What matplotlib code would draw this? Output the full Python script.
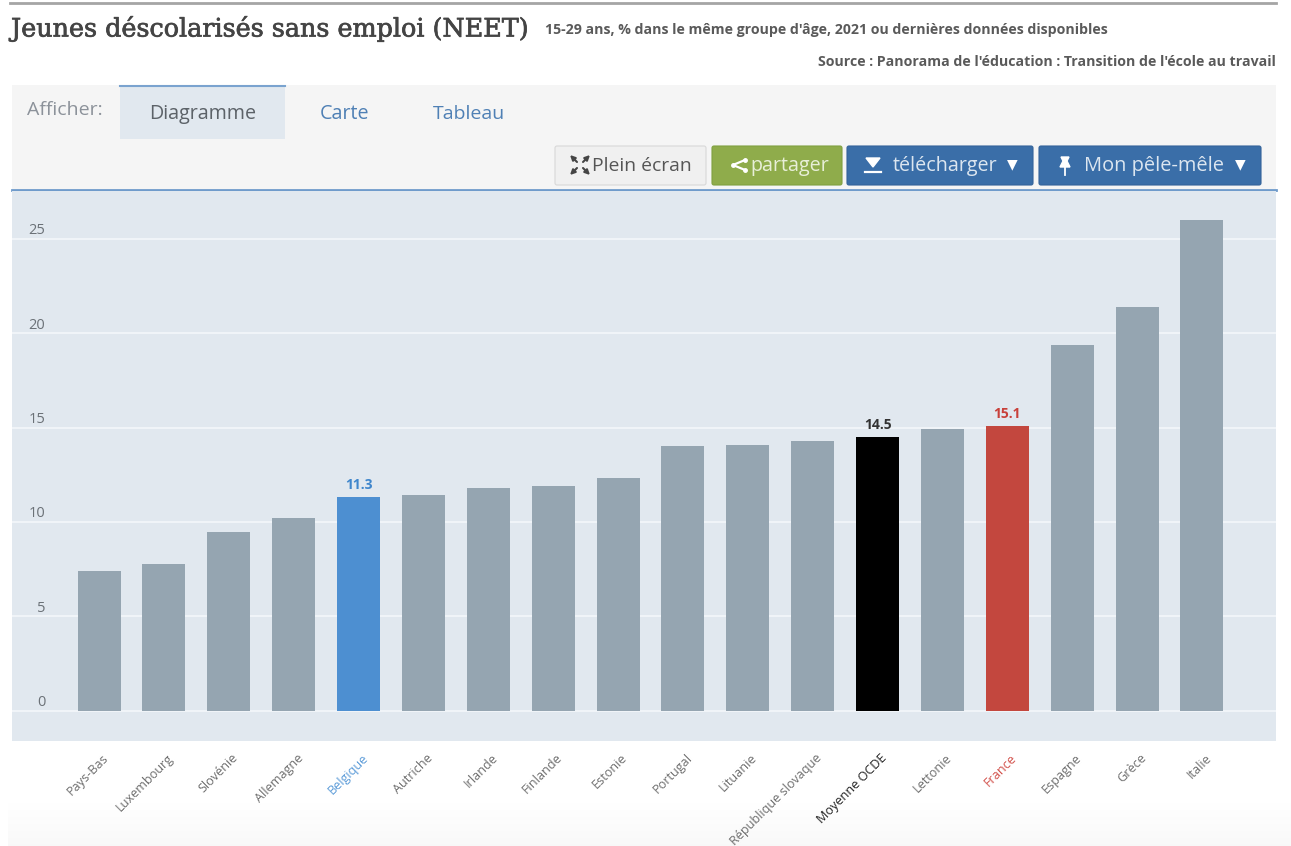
import matplotlib
matplotlib.use("Agg")
import matplotlib.pyplot as plt
import matplotlib.patheffects as pe
import numpy as np
from matplotlib.patches import FancyBboxPatch, Rectangle
from matplotlib.transforms import ScaledTranslation

countries = ["Pays-Bas", "Luxembourg", "Slovénie", "Allemagne", "Belgique", "Autriche",
             "Irlande", "Finlande", "Estonie", "Portugal", "Lituanie", "République slovaque",
             "Moyenne OCDE", "Lettonie", "France", "Espagne", "Grèce", "Italie"]
neet = [7.4, 7.75, 9.45, 10.2, 11.3, 11.4, 11.8, 11.9, 12.35,
        14.0, 14.1, 14.3, 14.5, 14.9, 15.1, 19.4, 21.4, 26.0]
yticks = [0, 5, 10, 15, 20, 25]

# bars that get their own colour and a value label
bar_colors = {"Belgique": "#4d8fd1", "Moyenne OCDE": "#000000", "France": "#c3473e"}
label_colors = {"Belgique": "#5b9bd8", "Moyenne OCDE": "#222222", "France": "#d2504a"}
value_colors = {"Belgique": "#3f86cc", "Moyenne OCDE": "#333333", "France": "#c8403a"}

W, H = 1291, 846
plt.rcParams["font.family"] = ["Open Sans", "DejaVu Sans"]
fig = plt.figure(figsize=(W / 100, H / 100), dpi=100)

# page furniture, in pixel coordinates
bg = fig.add_axes([0, 0, 1, 1])
bg.set_xlim(0, W)
bg.set_ylim(H, 0)
bg.axis("off")

bg.imshow(np.linspace(1, 0.972, 50)[:, None], cmap="gray", vmin=0, vmax=1,
          extent=(8, 1291, 846, 796), aspect="auto")
bg.set_xlim(0, W)
bg.set_ylim(H, 0)

bg.plot([10, 1276], [3.5, 3.5], color="#a5a5a5", lw=2)
bg.text(11, 29, "Jeunes déscolarisés sans emploi (NEET)", family="DejaVu Serif", fontsize=18.3,
        color="#444444", va="center", ha="left",
        path_effects=[pe.withStroke(linewidth=0.5, foreground="#444444")])
bg.text(545, 30, "15-29 ans, % dans le même groupe d'âge, 2021 ou dernières données disponibles",
        fontsize=10.2, fontweight="bold", color="#5a5a5a", va="center", ha="left")
bg.text(1276, 62, "Source : Panorama de l'éducation : Transition de l'école au travail",
        fontsize=10.15, fontweight="bold", color="#5a5a5a", va="center", ha="right")

bg.add_patch(Rectangle((12, 85), 1264, 105, fc="#f5f5f5", ec="none"))
bg.add_patch(Rectangle((120, 86), 165, 53, fc="#e1e8ef", ec="none"))
bg.plot([120, 285], [86, 86], color="#7aa3cf", lw=1.5)
bg.plot([12, 1276], [190, 190], color="#6f9bcb", lw=2, zorder=5)
bg.text(27, 110, "Afficher:", fontsize=14, color="#8c929a", va="center")
bg.text(203, 114, "Diagramme", fontsize=14.2, color="#5c6268", va="center", ha="center")
bg.text(345, 114, "Carte", fontsize=14.2, color="#4f80b5", va="center", ha="center")
bg.text(469, 114, "Tableau", fontsize=14, color="#4f80b5", va="center", ha="center")


def button(x0, x1, color, edge):
    bg.add_patch(FancyBboxPatch((x0 + 2, 148), x1 - x0 - 4, 35, boxstyle="round,pad=2",
                                fc=color, ec=edge, lw=0.8))


button(555, 706, "#f0f0f0", "#d8d8d8")
button(712, 842, "#8fac4b", "#80a040")
button(847, 1033, "#3a6ea8", "#33639a")
button(1039, 1261, "#3a6ea8", "#33639a")

# fullscreen icon
for dx, dy in [(-1, -1), (1, -1), (-1, 1), (1, 1)]:
    bg.annotate("", xy=(580 + dx * 10, 165 + dy * 10), xytext=(580 + dx * 3, 165 + dy * 3),
                arrowprops=dict(arrowstyle="-|>", color="#444444", lw=1.5, mutation_scale=7,
                                shrinkA=0, shrinkB=0))
bg.text(592, 166, "Plein écran", fontsize=13.9, color="#555555", va="center")

# share icon
bg.plot([745, 733, 745], [160, 165, 170], color="white", lw=1.6, marker="o", ms=2.5)
bg.text(750, 166, "partager", fontsize=14.2, color="#e8efd8", va="center")

# download icon
bg.fill([866, 880, 873], [158, 158, 167], color="white")
bg.plot([865, 881], [172.5, 172.5], color="white", lw=1.6)
bg.text(893, 166, "télécharger", fontsize=14.2, color="#dce6f0", va="center")
bg.text(1012, 164, "▼", family="DejaVu Sans", fontsize=10, color="white", va="center", ha="center")

# pin icon
bg.fill([1061, 1069, 1067, 1070, 1060, 1063], [157, 157, 161, 167, 167, 161], color="white")
bg.plot([1065, 1065], [167, 175], color="white", lw=1.3)
bg.text(1084, 166, "Mon pêle-mêle", fontsize=14.4, color="#dce6f0", va="center")
bg.text(1240, 164, "▼", family="DejaVu Sans", fontsize=10, color="white", va="center", ha="center")

# chart area
left, right, top, bottom = 12, 1276, 191, 741
ax = fig.add_axes([left / W, 1 - bottom / H, (right - left) / W, (bottom - top) / H])
ax.set_facecolor("#e1e8ef")
step = 64.88
ppu = 18.86
ax.set_xlim((left - 99) / step, (right - 99) / step)
ax.set_ylim((710.5 - bottom) / ppu, (710.5 - top) / ppu)

x = np.arange(len(countries))
colors = [bar_colors.get(c, "#95a5b1") for c in countries]
ax.bar(x, neet, width=43 / step, color=colors, zorder=3)

for i, (c, v) in enumerate(zip(countries, neet)):
    if c in value_colors:
        ax.annotate(f"{v:.1f}", xy=(i, v), xytext=(0, 5), textcoords="offset pixels",
                    ha="center", va="bottom", fontsize=10, fontweight="bold",
                    color=value_colors[c], zorder=4)

ax.grid(axis="y", color="#f4f7fa", lw=1.2, zorder=1)
ax.set_axisbelow(True)
for s in ax.spines.values():
    s.set_visible(False)

ax.set_yticks(yticks)
ax.tick_params(axis="y", length=0, pad=-24, labelsize=10.5, labelcolor="#6b7177")
for lab in ax.get_yticklabels():
    lab.set_verticalalignment("bottom")
    lab.set_transform(lab.get_transform() + ScaledTranslation(0, 0.5 / 72, fig.dpi_scale_trans))

ax.set_xticks(x)
ax.set_xticklabels(countries, rotation=45, ha="right", va="top", rotation_mode="anchor", fontsize=9.1)
ax.tick_params(axis="x", length=0, pad=7.5)
for lab, c in zip(ax.get_xticklabels(), countries):
    lab.set_color(label_colors.get(c, "#6e6e6e"))
    lab.set_transform(lab.get_transform() + ScaledTranslation(2 / 72, 0, fig.dpi_scale_trans))

fig.savefig("out.png", dpi=100)
